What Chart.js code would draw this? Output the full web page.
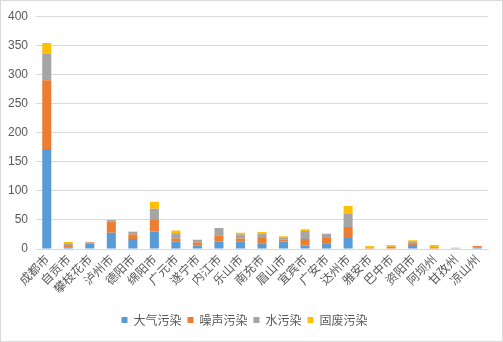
<!DOCTYPE html>
<html lang="zh">
<head>
  <meta charset="UTF-8">
  <title>四川各市州污染投诉</title>
  <script src="https://cdn.jsdelivr.net/npm/chart.js"></script>
  <style>
    body {
      margin: 0;
      background: #ffffff;
    }
    .frame {
      width: 503px;
      height: 342px;
      box-sizing: border-box;
      border: 1px solid #d9d9d9;
    }
    canvas {
      display: block;
    }
  </style>
</head>
<body>
  <div class="frame">
    <canvas id="chart" width="501" height="340"></canvas>
  </div>

  <script>
    const categories = ['成都市', '自贡市', '攀枝花市', '泸州市', '德阳市', '绵阳市', '广元市', '遂宁市', '内江市', '乐山市', '南充市',
      '眉山市', '宜宾市', '广安市', '达州市', '雅安市', '巴中市', '资阳市', '阿坝州', '甘孜州', '凉山州'];

    const air   = [172, 2, 9, 28, 17, 30, 13, 6, 13, 13, 9, 13, 6, 10, 19, 1, 0, 5, 0, 0, 2];
    const noise = [118, 3, 2, 19, 8, 20, 5, 5, 10, 5, 10, 3, 11, 9, 19, 1, 4, 5, 3, 0, 3];
    const water = [45, 5, 1, 3, 4, 19, 9, 5, 13, 7, 7, 3, 14, 7, 22, 1, 0, 2, 0, 2, 0];
    const solid = [19, 2, 0, 0, 1, 12, 5, 0, 0, 3, 3, 3, 3, 0, 14, 2, 3, 3, 4, 0, 0];

    const seriesNames = ['大气污染', '噪声污染', '水污染', '固废污染'];
    const seriesColors = ['#5b9bd5', '#ed7d31', '#a5a5a5', '#ffc000'];

    const yMax = 400;
    const yStep = 50;

    const cjkFont = "'Noto Sans CJK SC', 'Noto Sans', sans-serif";
    const numFont = "'Liberation Sans', Arial, sans-serif";
    const textColor = '#595959';
    const gridColor = '#d9d9d9';

    new Chart(document.getElementById('chart').getContext('2d'), {
      type: 'bar',
      data: {
        labels: categories,
        datasets: [air, noise, water, solid].map((values, i) => ({
          label: seriesNames[i],
          data: values,
          backgroundColor: seriesColors[i],
          categoryPercentage: 1,
          barPercentage: 0.42
        }))
      },
      options: {
        responsive: false,
        animation: false,
        layout: {
          padding: { top: 14, right: 14, bottom: 5, left: 0 }
        },
        scales: {
          x: {
            stacked: true,
            grid: { display: false, drawTicks: false },
            border: { color: gridColor },
            ticks: {
              color: textColor,
              font: { family: cjkFont, size: 12 },
              minRotation: 45,
              maxRotation: 45,
              autoSkip: false,
              padding: 3
            },
            afterFit: scale => { scale.height = 59; }
          },
          y: {
            stacked: true,
            min: 0,
            max: yMax,
            grid: { color: gridColor, drawTicks: false },
            border: { display: false },
            ticks: {
              stepSize: yStep,
              color: textColor,
              font: { family: numFont, size: 12 },
              padding: 8
            },
            // keep the axis at 0–400 whatever the stacked totals are
            afterDataLimits: scale => { scale.min = 0; scale.max = yMax; },
            afterFit: scale => { scale.width = 35; }
          }
        },
        plugins: {
          legend: {
            position: 'bottom',
            labels: {
              color: textColor,
              font: { family: cjkFont, size: 12 },
              boxWidth: 6,
              boxHeight: 6,
              padding: 6
            }
          },
          tooltip: { enabled: false }
        }
      }
    });
  </script>
</body>
</html>
